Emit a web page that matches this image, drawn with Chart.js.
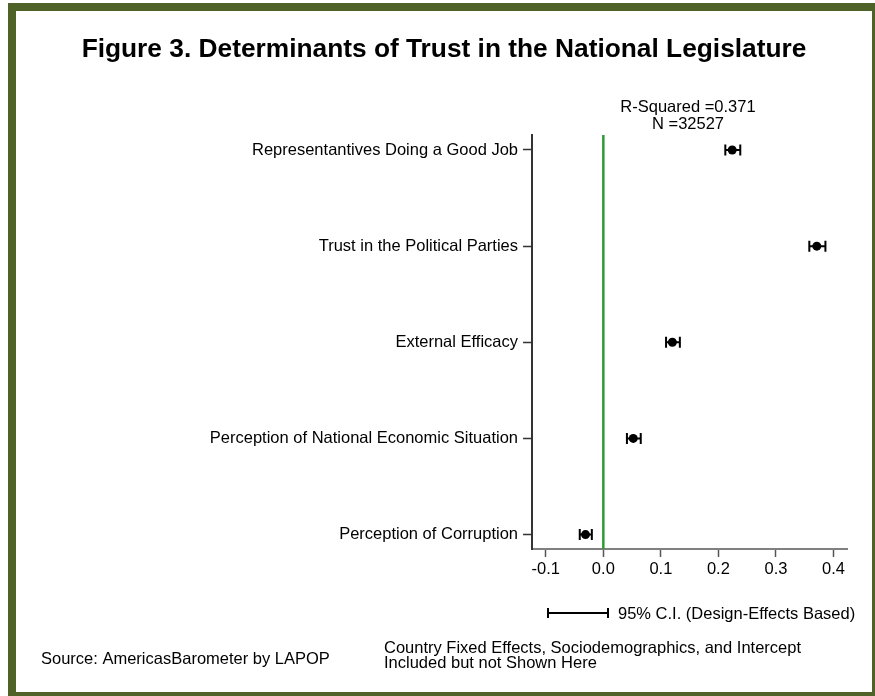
<!DOCTYPE html>
<html>
<head>
<meta charset="utf-8">
<title>Determinants of Trust in the National Legislature</title>
<script src="https://cdn.jsdelivr.net/npm/chart.js@4.4.1/dist/chart.umd.min.js"></script>
<style>
  html, body { margin: 0; padding: 0; background: #fff; overflow: hidden; }
  #wrap { position: relative; width: 875px; height: 696px; overflow: hidden; }
  #frame { position: absolute; left: 8px; top: 3px; width: 872px; height: 697px;
           box-sizing: border-box; border: 8px solid #4F6228; }
  #c { position: absolute; left: 0; top: 0; }
</style>
</head>
<body>
<div id="wrap">
  <div id="frame"></div>
  <canvas id="c" width="875" height="696"></canvas>
</div>
<script>
// Regression predictors, top to bottom
const categories = [
  'Representantives Doing a Good Job',
  'Trust in the Political Parties',
  'External Efficacy',
  'Perception of National Economic Situation',
  'Perception of Corruption'
];
// Standardized coefficients and 95% confidence bounds
const estimates = [0.224, 0.371, 0.120, 0.052, -0.031];
const ciLow     = [0.212, 0.358, 0.109, 0.041, -0.041];
const ciHigh    = [0.238, 0.386, 0.133, 0.065, -0.020];
// Horizontal axis ticks
const xTickValues = [-0.1, 0.0, 0.1, 0.2, 0.3, 0.4];
// Model fit
const rSquared = '0.371';
const nObs = '32527';

const FONT = "'Liberation Sans', Arial, Helvetica, sans-serif";
const TEXT_SIZE = 16.5;

// Green reference line at zero and the confidence-interval whiskers
const underlay = {
  id: 'underlay',
  beforeDatasetsDraw(chart) {
    const { ctx, chartArea, scales: { x, y } } = chart;
    ctx.save();
    const zx = x.getPixelForValue(0);
    ctx.strokeStyle = '#2E9B33';
    ctx.lineWidth = 2.5;
    ctx.beginPath();
    ctx.moveTo(zx, chartArea.top);
    ctx.lineTo(zx, chartArea.bottom);
    ctx.stroke();

    ctx.strokeStyle = '#000';
    ctx.lineWidth = 2;
    const cap = 5.5;
    estimates.forEach((_, i) => {
      const py = y.getPixelForValue(i);
      const x0 = x.getPixelForValue(ciLow[i]);
      const x1 = x.getPixelForValue(ciHigh[i]);
      ctx.beginPath();
      ctx.moveTo(x0, py); ctx.lineTo(x1, py);
      ctx.moveTo(x0, py - cap); ctx.lineTo(x0, py + cap);
      ctx.moveTo(x1, py - cap); ctx.lineTo(x1, py + cap);
      ctx.stroke();
    });
    ctx.restore();
  }
};

// Title, fit statistics, CI key and footnotes
const annotations = {
  id: 'annotations',
  afterDraw(chart) {
    const { ctx } = chart;
    ctx.save();
    ctx.fillStyle = '#000';
    ctx.textBaseline = 'alphabetic';

    ctx.font = `bold 26.3px ${FONT}`;
    ctx.textAlign = 'center';
    ctx.fillText('Figure 3. Determinants of Trust in the National Legislature', 444, 57);

    ctx.font = `${TEXT_SIZE}px ${FONT}`;
    ctx.fillText('R-Squared =' + rSquared, 688, 112);
    ctx.fillText('N =' + nObs, 688, 129);

    // CI key
    ctx.strokeStyle = '#000';
    ctx.lineWidth = 2;
    ctx.beginPath();
    ctx.moveTo(548, 613); ctx.lineTo(608, 613);
    ctx.moveTo(548, 608); ctx.lineTo(548, 618);
    ctx.moveTo(608, 608); ctx.lineTo(608, 618);
    ctx.stroke();

    ctx.textAlign = 'left';
    ctx.fillText('95% C.I. (Design-Effects Based)', 618, 619);

    ctx.fillText('Source: AmericasBarometer by LAPOP', 41, 664);
    ctx.fillText('Country Fixed Effects, Sociodemographics, and Intercept', 384, 653);
    ctx.fillText('Included but not Shown Here', 384, 668);
    ctx.restore();
  }
};

new Chart(document.getElementById('c'), {
  type: 'scatter',
  data: {
    datasets: [{
      data: estimates.map((v, i) => ({ x: v, y: i })),
      pointRadius: 4.5,
      pointBackgroundColor: '#000',
      pointBorderColor: '#000',
      pointBorderWidth: 0,
      showLine: false
    }]
  },
  options: {
    responsive: false,
    animation: false,
    events: [],
    layout: { padding: { left: 0, top: 135, right: 28, bottom: 0 } },
    plugins: { legend: { display: false }, tooltip: { enabled: false }, title: { display: false } },
    scales: {
      x: {
        type: 'linear',
        min: -0.124,
        max: 0.4235,
        afterBuildTicks: s => { s.ticks = xTickValues.map(v => ({ value: v })); },
        ticks: {
          callback: v => Number(v).toFixed(1),
          color: '#000',
          font: { family: FONT, size: TEXT_SIZE },
          padding: 3,
          maxRotation: 0,
          autoSkip: false
        },
        grid: { display: true, drawOnChartArea: false, tickLength: 8, tickColor: '#555', tickWidth: 1.5 },
        border: { display: true, color: '#808080', width: 2 },
        afterFit: s => { s.height = 147; }
      },
      y: {
        type: 'linear',
        reverse: true,
        min: -0.156,
        max: 4.15,
        afterBuildTicks: s => { s.ticks = categories.map((_, i) => ({ value: i })); },
        ticks: {
          callback: v => categories[v],
          color: '#000',
          font: { family: FONT, size: TEXT_SIZE },
          padding: 5,
          autoSkip: false
        },
        grid: { display: true, drawOnChartArea: false, tickLength: 9, tickColor: '#333', tickWidth: 1.5 },
        border: { display: true, color: '#333', width: 2 },
        afterFit: s => { s.width = 532; }
      }
    }
  },
  plugins: [underlay, annotations]
});
</script>
</body>
</html>
